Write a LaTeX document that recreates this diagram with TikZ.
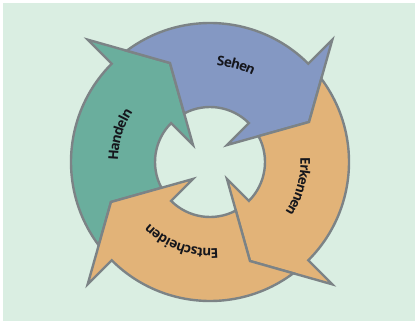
\documentclass[tikz,border=0pt]{standalone}
\usepackage{fontspec}
\setmainfont{Open Sans}
\usepackage{tikz}
\usetikzlibrary{decorations.text}
\definecolor{mintbg}{HTML}{DAEEE2}
\definecolor{rimgray}{HTML}{7C8386}
\definecolor{tealarrow}{HTML}{6AAE9D}
\definecolor{bluearrow}{HTML}{8498C3}
\definecolor{orangearrow}{HTML}{E2B378}
\definecolor{labelink}{HTML}{15161C}
\newcommand{\arcfont}{\bfseries\fontsize{13.5}{16}\selectfont}
\tikzset{
  cyclearrow/.style={draw=rimgray, line width=2.4pt, line join=miter},
  arclabel/.style={decorate, decoration={text effects along path, text={#1}, text align=center,
    text effects/.cd, text along path, characters={font=\arcfont, text=labelink, inner sep=0pt},
    character widths={inner xsep=0.8pt}}}
}

\begin{document}
\begin{tikzpicture}[x=1pt,y=1pt]
  \useasboundingbox (0,0) rectangle (417,322);
  \fill[white] (0,0) rectangle (417,322);
  \fill[mintbg] (3,1) rectangle (415,319);

  % four arrows of the cycle, one shape turned by 90 degrees each time
  \foreach \ang/\col in {0/tealarrow,-90/bluearrow,-180/orangearrow,-270/orangearrow}{
    \begin{scope}[shift={(210,160)}, rotate=\ang]
      \filldraw[cyclearrow, fill=\col] (216.8:139) arc[start angle=216.8, end angle=135, radius=139]
        -- (135:173) -- (112:106.8) -- (135:24) -- (135:55)
        arc[start angle=135, end angle=208, radius=55] -- (202:106.8) -- cycle;
    \end{scope}
  }

  % labels along the ring
  \begin{scope}[shift={(210,160)}]
    \path[arclabel=Sehen] (125:96.5) arc[start angle=125, end angle=25, radius=96.5];
    \path[arclabel=Erkennen] (34.6:90.5) arc[start angle=34.6, end angle=-65.4, radius=90.5];
    \path[arclabel=Entscheiden] (300.6:86.5) arc[start angle=300.6, end angle=200.6, radius=86.5];
    \path[arclabel=Handeln] (213:92) arc[start angle=213, end angle=113, radius=92];
  \end{scope}
\end{tikzpicture}
\end{document}
